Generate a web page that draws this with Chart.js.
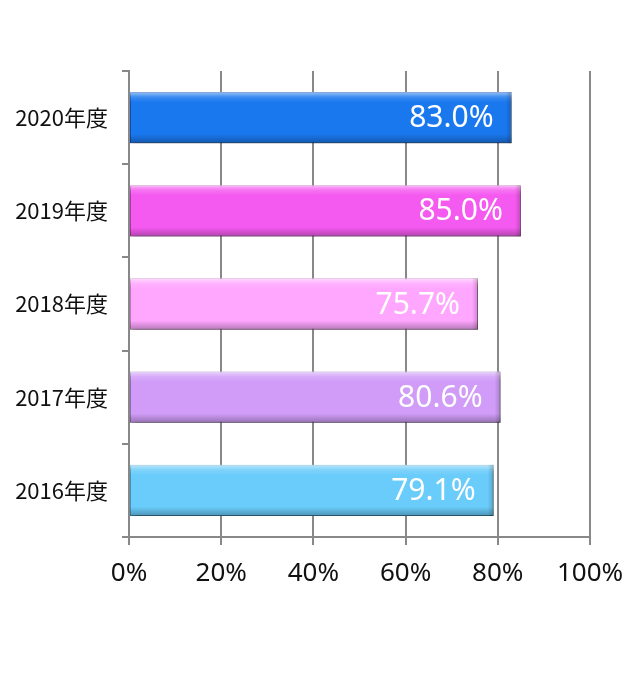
<!DOCTYPE html>
<html>
<head>
<meta charset="utf-8">
<script src="https://cdn.jsdelivr.net/npm/chart.js@4/dist/chart.umd.min.js"></script>
<style>
  html, body { margin: 0; padding: 0; background: #fff; }
  #wrap { width: 632px; height: 678px; }
</style>
</head>
<body>
<div id="wrap"><canvas id="rateChart" width="632" height="678"></canvas></div>
<script>
// ===== data =====
const years = ['2020年度', '2019年度', '2018年度', '2017年度', '2016年度'];
const rates = [83.0, 85.0, 75.7, 80.6, 79.1];
const barColors = ['#1a78ee', '#f55af0', '#ffa6ff', '#d09cf8', '#6accfa'];
const edgeColors = ['#0d55b8', '#b43ab0', '#c87ec8', '#9a72c0', '#4a9ac4'];
const xTicks = [0, 20, 40, 60, 80, 100];

// shadow under the bars
const barShadow = {
    id: 'barShadow',
    beforeDatasetsDraw(chart) {
        const ctx = chart.ctx;
        ctx.save();
        ctx.shadowColor = 'rgba(0,0,0,0.35)';
        ctx.shadowBlur = 5;
        ctx.shadowOffsetX = 2;
        ctx.shadowOffsetY = 3;
    },
    afterDatasetsDraw(chart) {
        chart.ctx.restore();
    }
};

// bevel look + value labels
const bevelLabels = {
    id: 'bevelLabels',
    afterDatasetsDraw(chart) {
        const ctx = chart.ctx;
        const meta = chart.getDatasetMeta(0);
        meta.data.forEach((bar, i) => {
            const p = bar.getProps(['x', 'y', 'base', 'height'], true);
            const top = p.y - p.height / 2;
            const left = p.base;
            const w = p.x - p.base;
            const h = p.height;
            ctx.save();
            const g = ctx.createLinearGradient(0, top, 0, top + h);
            g.addColorStop(0, 'rgba(255,255,255,0.55)');
            g.addColorStop(0.1, 'rgba(255,255,255,0.15)');
            g.addColorStop(0.2, 'rgba(255,255,255,0)');
            g.addColorStop(0.82, 'rgba(0,0,0,0)');
            g.addColorStop(0.9, 'rgba(0,0,0,0.12)');
            g.addColorStop(1, 'rgba(0,0,0,0.28)');
            ctx.fillStyle = g;
            ctx.fillRect(left, top, w, h);
            // right end bevel
            const gr = ctx.createLinearGradient(p.x - 6, 0, p.x, 0);
            gr.addColorStop(0, 'rgba(0,0,0,0)');
            gr.addColorStop(1, 'rgba(0,0,0,0.2)');
            ctx.fillStyle = gr;
            ctx.fillRect(p.x - 6, top, 6, h);

            ctx.fillStyle = '#ffffff';
            ctx.font = '30px "Noto Sans", sans-serif';
            ctx.textAlign = 'right';
            ctx.textBaseline = 'middle';
            ctx.fillText(rates[i].toFixed(1) + '%', p.x - 18, p.y + 1);
            ctx.restore();
        });
    }
};

const ctx = document.getElementById('rateChart').getContext('2d');
new Chart(ctx, {
    type: 'bar',
    data: {
        labels: years,
        datasets: [{
            data: rates,
            backgroundColor: barColors,
            borderColor: edgeColors,
            borderWidth: 1,
            borderSkipped: false,
            barPercentage: 0.55,
            categoryPercentage: 1.0
        }]
    },
    options: {
        indexAxis: 'y',
        responsive: false,
        animation: false,
        layout: { padding: { top: 71, right: 42, left: 0, bottom: 0 } },
        plugins: {
            legend: { display: false },
            tooltip: { enabled: false }
        },
        scales: {
            x: {
                min: 0,
                max: 100,
                afterBuildTicks: s => { s.ticks = xTicks.map(v => ({ value: v })); },
                afterFit: s => {
                    s.height = 141;
                    s.paddingLeft = 0;
                    s.paddingRight = 0;
                },
                grid: {
                    color: '#888888',
                    lineWidth: 2,
                    drawTicks: true,
                    tickLength: 8,
                    tickColor: '#888888'
                },
                border: { color: '#888888', width: 2 },
                ticks: {
                    color: '#111',
                    font: { family: '"Noto Sans", sans-serif', size: 26 },
                    padding: 13,
                    callback: v => v + '%'
                }
            },
            y: {
                afterFit: s => { s.width = 129; },
                grid: {
                    offset: true,
                    drawOnChartArea: false,
                    drawTicks: true,
                    tickLength: 7,
                    tickColor: '#888888',
                    lineWidth: 2
                },
                border: { color: '#888888', width: 2 },
                ticks: {
                    color: '#111',
                    font: { family: '"Noto Sans CJK JP", sans-serif', size: 22 },
                    padding: 14
                }
            }
        }
    },
    plugins: [barShadow, bevelLabels]
});
</script>
</body>
</html>
